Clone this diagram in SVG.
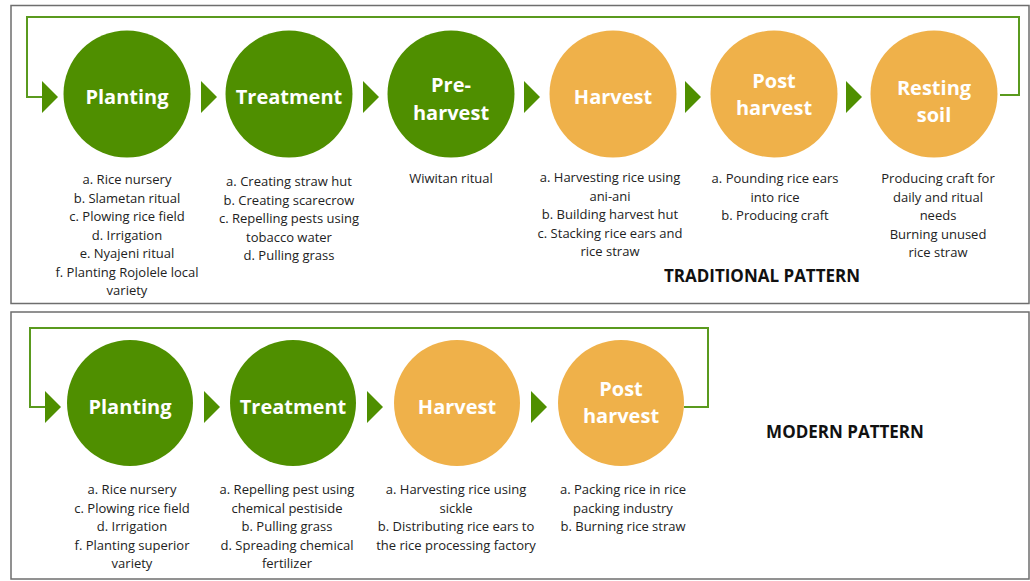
<svg xmlns="http://www.w3.org/2000/svg" width="1030" height="581" viewBox="0 0 1030 581">
<style>
.panel{fill:#fff;stroke:#6e6e6e;stroke-width:1.5}
.g{fill:#4f8f00}
.o{fill:#efb14a}
.lbl{font-family:"Open Sans",sans-serif;font-weight:700;font-size:20px;fill:#fff;text-anchor:middle}
.d{font-family:"Open Sans",sans-serif;font-size:13px;fill:#222;text-anchor:middle}
.t{font-family:"Open Sans",sans-serif;font-weight:700;font-size:17px;fill:#111;text-anchor:middle}
.loop{fill:none;stroke:#5a9a1e;stroke-width:2}
.arr{fill:#4f8f00}
</style>
<rect class="panel" x="11" y="5.5" width="1018" height="298"/>
<rect class="panel" x="11" y="312" width="1018" height="267"/>
<g id="connectors">
<path class="loop" d="M1000 95 H1019 V17 H27 V97 H42"/>
<polygon class="arr" points="42,81 58,97 42,113"/>
<polygon class="arr" points="201,81 217,97 201,113"/>
<polygon class="arr" points="363,81 379,97 363,113"/>
<polygon class="arr" points="524,81 540,97 524,113"/>
<polygon class="arr" points="685,81 701,97 685,113"/>
<polygon class="arr" points="846,81 862,97 846,113"/>
<path class="loop" d="M684 407 H708 V328 H30 V407 H45"/>
<polygon class="arr" points="45,391 61,407 45,423"/>
<polygon class="arr" points="204,391 220,407 204,423"/>
<polygon class="arr" points="367,391 383,407 367,423"/>
<polygon class="arr" points="531,391 547,407 531,423"/>
</g>
<g id="t-planting">
<circle class="g" cx="127" cy="94" r="63.5"/>
<text class="lbl" x="127" y="104">Planting</text>
<text class="d" x="127"><tspan x="127" y="184">a. Rice nursery</tspan><tspan x="127" y="202.5">b. Slametan ritual</tspan><tspan x="127" y="221">c. Plowing rice field</tspan><tspan x="127" y="239.5">d. Irrigation</tspan><tspan x="127" y="258">e. Nyajeni ritual</tspan><tspan x="127" y="276.5">f. Planting Rojolele local</tspan><tspan x="127" y="295">variety</tspan></text>
</g>
<g id="t-treatment">
<circle class="g" cx="289" cy="94" r="63.5"/>
<text class="lbl" x="289" y="104">Treatment</text>
<text class="d"><tspan x="289" y="186">a. Creating straw hut</tspan><tspan x="289" y="204.5">b. Creating scarecrow</tspan><tspan x="289" y="223">c. Repelling pests using</tspan><tspan x="289" y="241.5">tobacco water</tspan><tspan x="289" y="260">d. Pulling grass</tspan></text>
</g>
<g id="t-preharvest">
<circle class="g" cx="451" cy="94" r="63.5"/>
<text class="lbl"><tspan x="451" y="92">Pre-</tspan><tspan x="451" y="120">harvest</tspan></text>
<text class="d" x="451" y="183">Wiwitan ritual</text>
</g>
<g id="t-harvest">
<circle class="o" cx="613" cy="94" r="63.5"/>
<text class="lbl" x="613" y="104">Harvest</text>
<text class="d"><tspan x="610" y="182">a. Harvesting rice using</tspan><tspan x="610" y="200.5">ani-ani</tspan><tspan x="610" y="219">b. Building harvest hut</tspan><tspan x="610" y="237.5">c. Stacking rice ears and</tspan><tspan x="610" y="256">rice straw</tspan></text>
</g>
<g id="t-postharvest">
<circle class="o" cx="774" cy="94" r="63.5"/>
<text class="lbl"><tspan x="774" y="88">Post</tspan><tspan x="774" y="115">harvest</tspan></text>
<text class="d"><tspan x="775" y="183">a. Pounding rice ears</tspan><tspan x="775" y="201.5">into rice</tspan><tspan x="775" y="220">b. Producing craft</tspan></text>
</g>
<g id="t-resting">
<circle class="o" cx="934" cy="94" r="63.5"/>
<text class="lbl"><tspan x="934" y="95">Resting</tspan><tspan x="934" y="122">soil</tspan></text>
<text class="d"><tspan x="938" y="183">Producing craft for</tspan><tspan x="938" y="201.5">daily and ritual</tspan><tspan x="938" y="220">needs</tspan><tspan x="938" y="238.5">Burning unused</tspan><tspan x="938" y="257">rice straw</tspan></text>
</g>
<text class="t" x="762" y="282">TRADITIONAL PATTERN</text>
<g id="m-planting">
<circle class="g" cx="130" cy="403" r="63"/>
<text class="lbl" x="130" y="414">Planting</text>
<text class="d"><tspan x="132" y="494">a. Rice nursery</tspan><tspan x="132" y="512.5">c. Plowing rice field</tspan><tspan x="132" y="531">d. Irrigation</tspan><tspan x="132" y="549.5">f. Planting superior</tspan><tspan x="132" y="568">variety</tspan></text>
</g>
<g id="m-treatment">
<circle class="g" cx="293" cy="403" r="63"/>
<text class="lbl" x="293" y="414">Treatment</text>
<text class="d"><tspan x="287" y="494">a. Repelling pest using</tspan><tspan x="287" y="512.5">chemical pestiside</tspan><tspan x="287" y="531">b. Pulling grass</tspan><tspan x="287" y="549.5">d. Spreading chemical</tspan><tspan x="287" y="568">fertilizer</tspan></text>
</g>
<g id="m-harvest">
<circle class="o" cx="457" cy="403" r="63"/>
<text class="lbl" x="457" y="414">Harvest</text>
<text class="d"><tspan x="456" y="494">a. Harvesting rice using</tspan><tspan x="456" y="512.5">sickle</tspan><tspan x="456" y="531">b. Distributing rice ears to</tspan><tspan x="456" y="549.5">the rice processing factory</tspan></text>
</g>
<g id="m-postharvest">
<circle class="o" cx="621" cy="403" r="63"/>
<text class="lbl"><tspan x="621" y="396">Post</tspan><tspan x="621" y="423">harvest</tspan></text>
<text class="d"><tspan x="623" y="494">a. Packing rice in rice</tspan><tspan x="623" y="512.5">packing industry</tspan><tspan x="623" y="531">b. Burning rice straw</tspan></text>
</g>
<text class="t" x="845" y="438">MODERN PATTERN</text>
</svg>
